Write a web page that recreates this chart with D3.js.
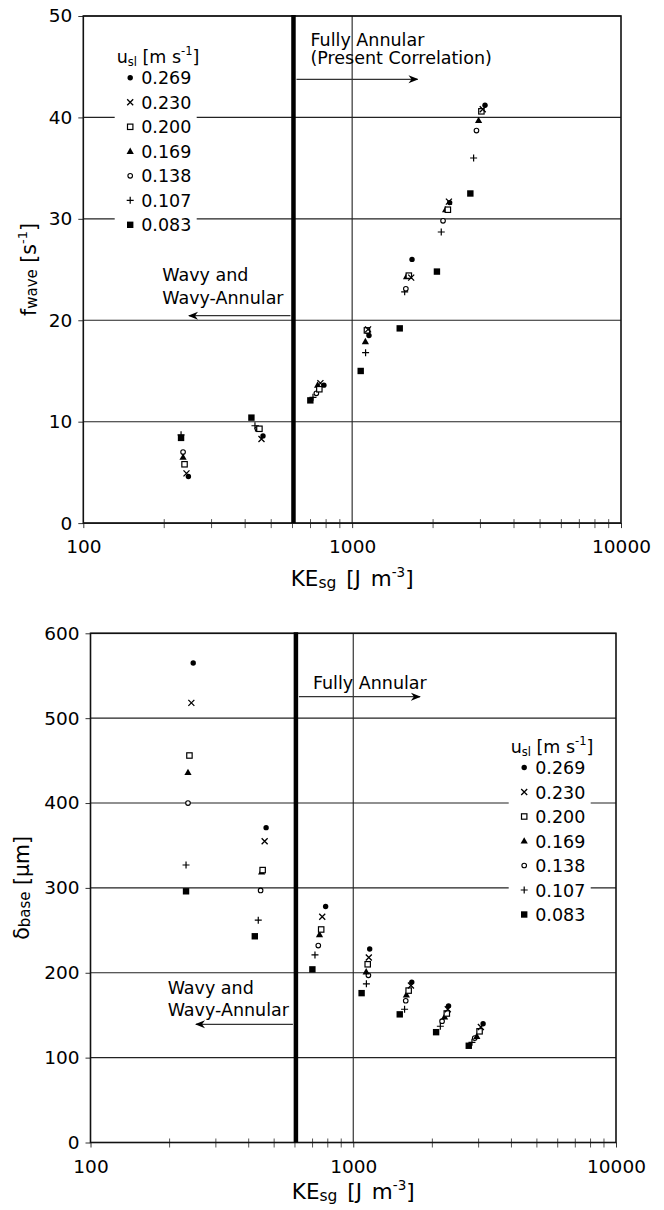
<!DOCTYPE html>
<html>
<head>
<meta charset="utf-8">
<script src="https://cdn.jsdelivr.net/npm/d3@7"></script>
<style>
  body { margin: 0; background: #fff; }
  svg { display: block; font-family: "DejaVu Sans", Verdana, sans-serif; }
</style>
</head>
<body>
<svg id="chart" width="664" height="1210"></svg>
<script>
// liquid superficial velocity series (legend order)
const uslLabels = ["0.269", "0.230", "0.200", "0.169", "0.138", "0.107", "0.083"];
const symbolKinds = ["dot", "cross", "square", "triangle", "circle", "plus", "filledSquare"];

// gas kinetic energy KEsg [J m-3], one row per series
const keSg = [
  [246, 466, 785, 1155, 1670, 2305, 3120],
  [242, 460, 762, 1146, 1658, 2290, 3060],
  [238, 452, 755, 1135, 1625, 2270, 3025],
  [235, 448, 744, 1120, 1593, 2226, 2953],
  [235, 444, 736, 1142, 1584, 2178, 2900],
  [231, 435, 715, 1122, 1568, 2145, 2830],
  [231, 422, 699, 1076, 1503, 2067, 2752]
];

// wave frequency f_wave [s-1]
const fWave = [
  [4.6, 8.6, 13.6, 18.5, 26.0, 31.6, 41.2],
  [4.9, 8.3, 13.8, 19.1, 24.2, 31.7, 40.8],
  [5.8, 9.3, 13.2, 19.0, 24.4, 30.9, 40.6],
  [6.5, 9.3, 13.6, 17.9, 24.3, 30.9, 39.7],
  [7.0, 9.3, 12.8, 18.9, 23.1, 29.8, 38.7],
  [8.7, 9.6, 12.4, 16.8, 22.8, 28.7, 36.0],
  [8.4, 10.4, 12.1, 15.0, 19.2, 24.8, 32.5]
];

// base film thickness delta_base [um]
const deltaBase = [
  [565, 371, 278, 228, 189, 161, 140],
  [518, 355, 266, 218, 185, 157, 136],
  [456, 321, 251, 210, 179, 152, 131],
  [436, 319, 245, 201, 174, 148, 125],
  [400, 297, 232, 197, 167, 143, 123],
  [327, 262, 221, 187, 157, 137, 118],
  [296, 243, 204, 176, 151, 130, 114]
];

const transitionKE = 605; // flow regime boundary
const xTicks = [100, 1000, 10000];
const fTicks = [0, 10, 20, 30, 40, 50];
const dTicks = [0, 100, 200, 300, 400, 500, 600];

const svg = d3.select("#chart");

// arrow head
svg.append("defs").append("marker")
  .attr("id", "arrow")
  .attr("viewBox", "0 0 10 10")
  .attr("refX", 9).attr("refY", 5)
  .attr("markerWidth", 10).attr("markerHeight", 10)
  .attr("markerUnits", "userSpaceOnUse")
  .attr("orient", "auto")
  .append("path")
  .attr("d", "M0,1 L10,5 L0,9 L3,5 Z")
  .attr("fill", "#000");

function drawSymbol(g, kind, x, y) {
  if (kind === "dot") {
    g.append("circle").attr("cx", x).attr("cy", y).attr("r", 2.7).attr("fill", "#000");
  } else if (kind === "circle") {
    g.append("circle").attr("cx", x).attr("cy", y).attr("r", 2.3)
      .attr("fill", "#fff").attr("stroke", "#000").attr("stroke-width", 1.1);
  } else if (kind === "square") {
    g.append("rect").attr("x", x - 2.7).attr("y", y - 2.7).attr("width", 5.4).attr("height", 5.4)
      .attr("fill", "#fff").attr("stroke", "#000").attr("stroke-width", 1.2);
  } else if (kind === "filledSquare") {
    g.append("rect").attr("x", x - 3.2).attr("y", y - 3.2).attr("width", 6.4).attr("height", 6.4)
      .attr("fill", "#000");
  } else if (kind === "triangle") {
    g.append("path").attr("d", `M${x},${y - 3.8} L${x + 3.6},${y + 2.6} L${x - 3.6},${y + 2.6} Z`)
      .attr("fill", "#000");
  } else if (kind === "cross") {
    g.append("path").attr("d", `M${x - 3},${y - 3} L${x + 3},${y + 3} M${x - 3},${y + 3} L${x + 3},${y - 3}`)
      .attr("stroke", "#000").attr("stroke-width", 1.3);
  } else if (kind === "plus") {
    g.append("path").attr("d", `M${x - 3.5},${y} L${x + 3.5},${y} M${x},${y - 3.5} L${x},${y + 3.5}`)
      .attr("stroke", "#000").attr("stroke-width", 1.2);
  }
}

function drawPanel(cfg) {
  const x = d3.scaleLog().domain([100, 10000]).range([cfg.left, cfg.right]);
  const y = d3.scaleLinear().domain(cfg.yDomain).range([cfg.bottom, cfg.top]);
  const g = svg.append("g");

  // horizontal gridlines
  g.append("g").selectAll("line").data(cfg.yTicks).join("line")
    .attr("x1", cfg.left).attr("x2", cfg.right)
    .attr("y1", d => y(d)).attr("y2", d => y(d))
    .attr("stroke", "#222").attr("stroke-width", 1.1);

  // vertical gridline at 1000
  g.append("line")
    .attr("x1", x(1000)).attr("x2", x(1000))
    .attr("y1", cfg.top).attr("y2", cfg.bottom)
    .attr("stroke", "#222").attr("stroke-width", 1.1);

  // y axis
  const yAxis = g.append("g")
    .attr("transform", `translate(${cfg.left},0)`)
    .call(d3.axisLeft(y).tickValues(cfg.yTicks).tickSizeInner(5).tickSizeOuter(0).tickPadding(6));
  yAxis.select(".domain").remove();
  yAxis.selectAll("line").attr("stroke", "#333");
  yAxis.selectAll("text").attr("font-size", 18.5).attr("font-family", "DejaVu Sans").attr("fill", "#000");

  // x axis major labels
  const xAxis = g.append("g")
    .attr("transform", `translate(0,${cfg.bottom})`)
    .call(d3.axisBottom(x).tickValues(xTicks).tickFormat(d3.format("d")).tickSize(5).tickPadding(12));
  xAxis.select(".domain").remove();
  xAxis.selectAll("line").attr("stroke", "#333");
  xAxis.selectAll("text").attr("font-size", 18.5).attr("font-family", "DejaVu Sans").attr("fill", "#000");

  // minor ticks crossing the x axis
  const minor = d3.range(2, 10).map(d => d * 100).concat(d3.range(2, 10).map(d => d * 1000));
  g.append("g").selectAll("line").data(minor).join("line")
    .attr("x1", d => x(d)).attr("x2", d => x(d))
    .attr("y1", cfg.bottom - 4).attr("y2", cfg.bottom + 5)
    .attr("stroke", "#555").attr("stroke-width", 1);

  // frame
  g.append("rect")
    .attr("x", cfg.left).attr("y", cfg.top)
    .attr("width", cfg.right - cfg.left).attr("height", cfg.bottom - cfg.top)
    .attr("fill", "none").attr("stroke", "#111").attr("stroke-width", 1.6);

  // thick regime boundary
  g.append("line")
    .attr("x1", x(transitionKE)).attr("x2", x(transitionKE))
    .attr("y1", cfg.top - 1).attr("y2", cfg.bottom)
    .attr("stroke", "#000").attr("stroke-width", 4.5);

  // annotations
  const xt = x(transitionKE);
  const ann = g.append("g").attr("font-size", 17.5).attr("fill", "#000");
  cfg.rightText.forEach((t, i) => {
    ann.append("text").attr("x", xt + 17).attr("y", cfg.rightTextY + i * 18).text(t);
  });
  g.append("line")
    .attr("x1", xt + 3).attr("x2", xt + 124)
    .attr("y1", cfg.rightArrowY).attr("y2", cfg.rightArrowY)
    .attr("stroke", "#333").attr("stroke-width", 1.2).attr("marker-end", "url(#arrow)");
  ["Wavy and", "Wavy-Annular"].forEach((t, i) => {
    ann.append("text").attr("x", cfg.leftTextX).attr("y", cfg.leftTextY + i * 22.5).text(t);
  });
  g.append("line")
    .attr("x1", xt - 3).attr("x2", cfg.leftArrowEnd)
    .attr("y1", cfg.leftArrowY).attr("y2", cfg.leftArrowY)
    .attr("stroke", "#333").attr("stroke-width", 1.2).attr("marker-end", "url(#arrow)");

  // legend
  const lg = g.append("g");
  lg.append("rect")
    .attr("x", cfg.legX - 2).attr("y", cfg.legY - 18)
    .attr("width", 82).attr("height", 195).attr("fill", "#fff");
  const title = lg.append("text").attr("x", cfg.legX).attr("y", cfg.legY).attr("font-size", 17.5);
  title.append("tspan").text("u");
  title.append("tspan").attr("font-size", 11.5).attr("dy", 3).text("sl");
  title.append("tspan").attr("dy", -3).text(" [m s");
  title.append("tspan").attr("font-size", 11.5).attr("dy", -8).text("-1");
  title.append("tspan").attr("dy", 8).text("]");
  uslLabels.forEach((lab, i) => {
    const by = cfg.legY + 21 + i * 24.5;
    drawSymbol(lg, symbolKinds[i], cfg.legX + 13.5, by - 6.5);
    lg.append("text").attr("x", cfg.legX + 24.5).attr("y", by).attr("font-size", 17.5).text(lab);
  });

  // data points (drawn from lowest velocity up)
  const pts = g.append("g");
  for (let s = uslLabels.length - 1; s >= 0; s--) {
    keSg[s].forEach((ke, j) => {
      drawSymbol(pts, symbolKinds[s], x(ke), y(cfg.values[s][j]));
    });
  }

  // x axis title
  const xt2 = g.append("text")
    .attr("x", x(1000)).attr("y", cfg.bottom + cfg.xTitleOffset)
    .attr("text-anchor", "middle").attr("font-size", 21.5).attr("word-spacing", 3);
  xt2.append("tspan").text("KE");
  xt2.append("tspan").attr("font-size", 15.5).attr("dy", 2).text("sg");
  xt2.append("tspan").attr("dy", -2).text(" [J m");
  xt2.append("tspan").attr("font-size", 13.5).attr("dy", -9).text("-3");
  xt2.append("tspan").attr("dy", 9).text("]");

  // y axis title
  const yt = g.append("text")
    .attr("transform", `translate(${cfg.yTitleX},${(cfg.top + cfg.bottom) / 2}) rotate(-90)`)
    .attr("text-anchor", "middle").attr("font-size", 20.5);
  cfg.yTitle(yt);
}

drawPanel({
  left: 83.3, right: 621, top: 16, bottom: 523.1,
  yDomain: [0, 50], yTicks: fTicks, values: fWave,
  rightText: ["Fully Annular", "(Present Correlation)"], rightTextY: 46, rightArrowY: 79.3,
  leftTextX: 162.3, leftTextY: 281, leftArrowY: 315.7, leftArrowEnd: 189,
  legX: 116.7, legY: 63.3,
  xTitleOffset: 63, yTitleX: 36,
  yTitle: t => {
    t.append("tspan").text("f");
    t.append("tspan").attr("font-size", 15).attr("dy", 1).text("wave");
    t.append("tspan").attr("dy", -1).text(" [s");
    t.append("tspan").attr("font-size", 13).attr("dy", -9).text("-1");
    t.append("tspan").attr("dy", 9).text("]");
  }
});

drawPanel({
  left: 90.5, right: 616, top: 633.3, bottom: 1142.5,
  yDomain: [0, 600], yTicks: dTicks, values: deltaBase,
  rightText: ["Fully Annular"], rightTextY: 688.5, rightArrowY: 696.7,
  leftTextX: 167.7, leftTextY: 993.5, leftArrowY: 1024.3, leftArrowEnd: 196,
  legX: 510.7, legY: 753,
  xTitleOffset: 56, yTitleX: 29,
  yTitle: t => {
    t.append("tspan").text("δ");
    t.append("tspan").attr("font-size", 15).attr("dy", 1).text("base");
    t.append("tspan").attr("dy", -1).text(" [μm]");
  }
});
</script>
</body>
</html>
